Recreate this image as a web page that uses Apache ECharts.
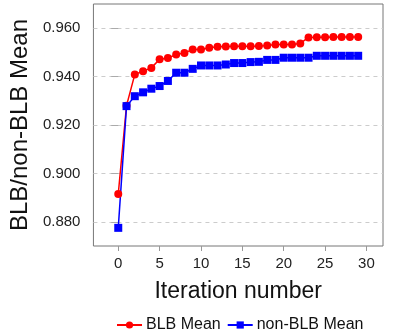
<!DOCTYPE html>
<html>
<head>
<meta charset="utf-8">
<script src="https://cdn.jsdelivr.net/npm/echarts@6/dist/echarts.min.js"></script>
<style>
  html, body { margin: 0; padding: 0; background: #fff; }
  #chart { width: 393px; height: 333px; }
</style>
</head>
<body>
<div id="chart"></div>
<script>
const iterations = [0, 1, 2, 3, 4, 5, 6, 7, 8, 9, 10, 11, 12, 13, 14, 15, 16, 17, 18, 19, 20, 21, 22, 23, 24, 25, 26, 27, 28, 29]
const blbMean = [0.8915, 0.9280, 0.9409, 0.9422, 0.9436, 0.9472, 0.9477, 0.9491, 0.9498, 0.9512,
  0.9512, 0.9519, 0.9523, 0.9524, 0.9525, 0.9525, 0.9525, 0.9526, 0.9528, 0.9533,
  0.9533, 0.9533, 0.9537, 0.9562, 0.9563, 0.9563, 0.9564, 0.9564, 0.9564, 0.9564]
const nonBlbMean = [0.8775, 0.9278, 0.9319, 0.9335, 0.9350, 0.9361, 0.9382, 0.9416, 0.9416, 0.9432,
  0.9446, 0.9446, 0.9446, 0.9450, 0.9456, 0.9456, 0.9460, 0.9461, 0.9469, 0.9469,
  0.9478, 0.9478, 0.9478, 0.9478, 0.9486, 0.9486, 0.9486, 0.9486, 0.9486, 0.9486]
const xTicks = [0, 5, 10, 15, 20, 25, 30]
const yTicks = [0.88, 0.9, 0.92, 0.94, 0.96]

const font = 'Liberation Sans'
const pairs = (ys) => iterations.map((x, i) => [x, ys[i]])

let myChart = echarts.init(document.getElementById('chart'))
let option = {
  animation: false,
  grid: {
    left: 93,
    right: 10,
    top: 4,
    bottom: 87,
    show: true,
    borderColor: '#777',
    borderWidth: 1,
  },
  legend: {
    data: ['BLB Mean', 'non-BLB Mean'],
    left: 111,
    top: 312,
    itemWidth: 25,
    itemHeight: 9,
    itemGap: 6,
    textStyle: { fontFamily: font, fontSize: 16, color: '#111', padding: [0, 0, 0, -1] },
  },
  xAxis: {
    type: 'value',
    min: -3,
    max: 32,
    splitNumber: 7,
    name: 'Iteration number',
    nameLocation: 'middle',
    nameGap: 34,
    nameTextStyle: { fontFamily: font, fontSize: 23, color: '#111' },
    axisLine: { show: false },
    axisTick: {
      show: true,
      customValues: xTicks,
      length: 5,
      lineStyle: { color: '#999' },
    },
    axisLabel: {
      customValues: xTicks,
      fontFamily: font,
      fontSize: 15,
      color: '#222',
      margin: 10,
    },
    splitLine: { show: false },
  },
  yAxis: {
    type: 'value',
    min: 0.87,
    max: 0.97,
    splitNumber: 5,
    name: 'BLB/non-BLB Mean',
    nameLocation: 'middle',
    nameGap: 55,
    nameTextStyle: { fontFamily: font, fontSize: 24, color: '#111' },
    axisLine: { show: false },
    axisTick: {
      show: true,
      customValues: yTicks,
      length: 7,
      lineStyle: { color: '#aaa' },
    },
    axisLabel: {
      customValues: yTicks,
      fontFamily: font,
      fontSize: 15,
      color: '#222',
      margin: 13,
      formatter: (v) => v.toFixed(3),
    },
    splitLine: {
      show: true,
      lineStyle: { color: '#ccc', type: [4, 4], width: 1 },
    },
  },
  series: [
    {
      name: 'BLB Mean',
      type: 'line',
      symbol: 'circle',
      symbolSize: 8,
      color: '#ff0000',
      lineStyle: { width: 1.5, color: '#ff0000' },
      itemStyle: { color: '#ff0000' },
      data: pairs(blbMean),
    },
    {
      name: 'non-BLB Mean',
      type: 'line',
      symbol: 'rect',
      symbolSize: 8,
      color: '#0000ff',
      lineStyle: { width: 1.5, color: '#0000ff' },
      itemStyle: { color: '#0000ff' },
      data: pairs(nonBlbMean),
    },
  ],
}
myChart.setOption(option, true)
window.addEventListener('resize', () => {
  myChart.resize()
})
</script>
</body>
</html>
